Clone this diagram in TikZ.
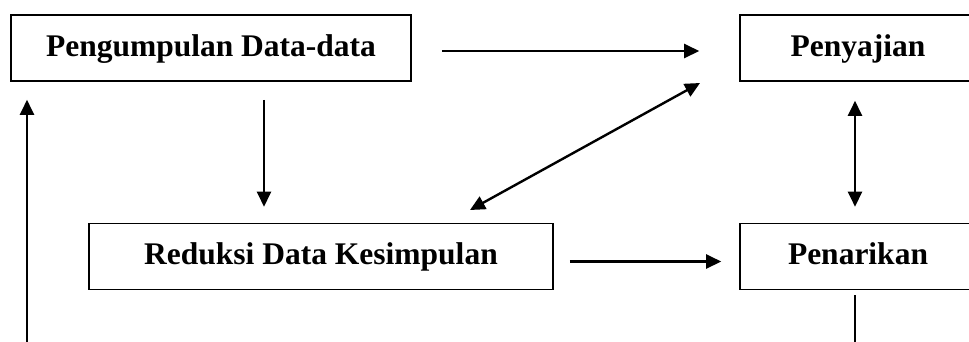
\documentclass[tikz,border=0pt]{standalone}
\usepackage{fontspec}
\setmainfont{Liberation Serif}
\usetikzlibrary{arrows.meta}

\begin{document}
\begin{tikzpicture}[x=1pt,y=-1pt,
  stage/.style={draw,line width=1.6pt,inner sep=0pt,minimum height=66pt,
    text height=22pt,text depth=6pt,font=\fontsize{31.5}{38}\bfseries},
  arr/.style={line width=2.4pt,-{Triangle[length=15pt,width=14pt]}},
  darr/.style={line width=2.4pt,{Triangle[length=15pt,width=14pt]}-{Triangle[length=15pt,width=14pt]}}]
\useasboundingbox (0,0) rectangle (969,341);
\clip (0,0) rectangle (969,341);

% boxes
\node[stage,minimum width=400pt] (pd) at (211,48) {Pengumpulan Data-data};
\node[stage,minimum width=236pt] (pj) at (858,48) {Penyajian};
\node[stage,minimum width=464pt] (rd) at (321,256.5) {Reduksi Data Kesimpulan};
\node[stage,minimum width=236pt] (pn) at (858,256.5) {Penarikan};

\coordinate (d1) at (470,210);
\coordinate (d2) at (700,83);
\coordinate (u) at (27,345);

% connectors
\draw[arr,shorten <=30pt,shorten >=40pt] ([yshift=-3pt]pd.east) -- ([yshift=-3pt]pd.east -| pj.west);
\draw[arr,shorten <=18pt,shorten >=16pt] ([xshift=53pt]pd.south) -- ([xshift=53pt]pd.south |- rd.north);
\draw[darr] (d1) -- (d2);
\draw[darr,shorten <=19pt,shorten >=16pt] ([xshift=-3pt]pj.south) -- ([xshift=-3pt]pj.south |- pn.north);
\draw[arr,shorten <=16pt,shorten >=18pt] ([yshift=-5pt]rd.east) -- ([yshift=-5pt]rd.east -| pn.west);
\draw[arr,shorten >=18pt] (u) -- (u |- pd.south);
\draw[line width=2.4pt,shorten <=5pt] ([xshift=-3pt]pn.south) -- ([xshift=-3pt]pn.south |- u);
\end{tikzpicture}
\end{document}
